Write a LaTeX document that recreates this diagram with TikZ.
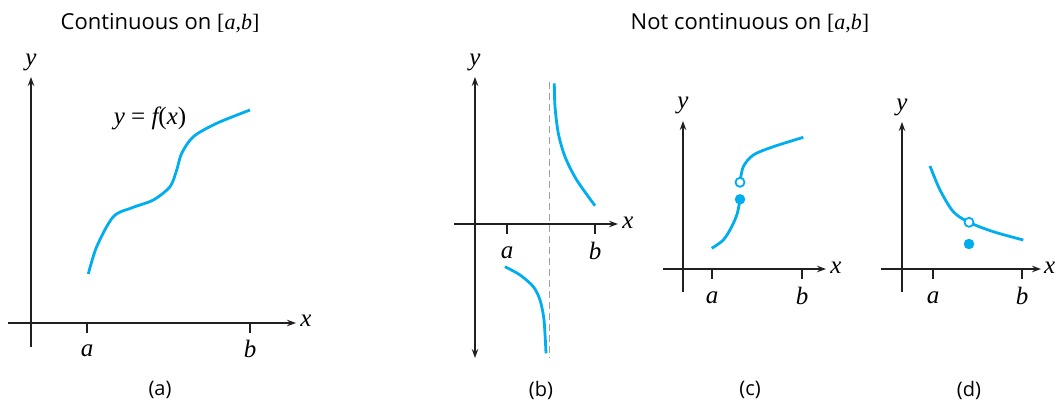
\documentclass[tikz,border=0pt]{standalone}
\usepackage{fontspec}
\setmainfont{Open Sans}
\newfontfamily\varfont{Liberation Serif}
\usetikzlibrary{arrows.meta}

\definecolor{graphcyan}{RGB}{0,174,239}
\definecolor{axisblack}{RGB}{35,31,32}
\definecolor{asymgray}{RGB}{160,160,160}

\newcommand{\mvar}[1]{{\varfont\itshape #1}}

\tikzset{
  axisline/.style={draw=axisblack, line width=1.2pt, -{Stealth[length=9pt,width=6.5pt]}},
  twoway/.style={draw=axisblack, line width=1.2pt, {Stealth[length=9pt,width=6.5pt]}-{Stealth[length=9pt,width=6.5pt]}},
  tickmark/.style={draw=axisblack, line width=1.2pt},
  graph/.style={draw=graphcyan, line width=2.8pt},
  varlbl/.style={inner sep=0pt, font=\fontsize{25}{28}\varfont\itshape},
  titlelbl/.style={inner sep=0pt, font=\fontsize{22}{26}\selectfont},
  caplbl/.style={inner sep=0pt, font=\fontsize{20}{24}\selectfont},
  solid dot/.style={circle, fill=graphcyan, inner sep=0pt, minimum size=10.5pt},
  open dot/.style={circle, draw=graphcyan, fill=white, line width=1.8pt, inner sep=0pt, minimum size=9pt}
}

\begin{document}
\begin{tikzpicture}[x=1pt,y=-1pt]
\useasboundingbox (0,0) rectangle (1056,407);

% headings
\node[titlelbl] (headA) at (160,23) {Continuous on {\varfont[\itshape a,b\upshape]}};
\node[titlelbl] (headB) at (750,23) {Not continuous on {\varfont[\itshape a,b\upshape]}};

% (a) continuous
\coordinate (a-xl) at (8,323);
\coordinate (a-xr) at (296,323);
\coordinate (a-yb) at (31,347);
\coordinate (a-yt) at (31,77);
\draw[axisline] (a-xl) -- (a-xr);
\draw[axisline] (a-yb) -- (a-yt);
\node[varlbl] (a-x) at (306,321) {x};
\node[varlbl] (a-y) at (31,62) {y};
\draw[tickmark] (87,323) -- (87,333);
\draw[tickmark] (250,323) -- (250,333);
\node[varlbl] (a-a) at (87,351) {a};
\node[varlbl] (a-b) at (250,349) {b};
\draw[graph] plot[smooth] coordinates {(88.3,274) (96.7,246.7) (113.3,216.7) (133.3,207.3)
  (153.3,200) (170,186.7) (176.7,170) (181.7,153.3) (193.3,136.7) (216.7,123.3) (250,110)};
\node[varlbl] (a-f) at (150,118) {y \upshape= \itshape f\upshape(\itshape x\upshape)};
\node[caplbl] (a-cap) at (160,390) {(a)};

% (b) vertical asymptote
\coordinate (b-xl) at (454,224);
\coordinate (b-xr) at (618,224);
\coordinate (b-yb) at (475,358);
\coordinate (b-yt) at (475,77);
\draw[axisline] (b-xl) -- (b-xr);
\draw[twoway] (b-yb) -- (b-yt);
\draw[asymgray, line width=1pt, dash pattern=on 7pt off 4pt] (549,82) -- (549,358);
\node[varlbl] (b-x) at (628,223) {x};
\node[varlbl] (b-y) at (475,62) {y};
\draw[tickmark] (507,224) -- (507,234);
\draw[tickmark] (595,224) -- (595,234);
\node[varlbl] (b-a) at (507,253) {a};
\node[varlbl] (b-b) at (595,251) {b};
\draw[graph] plot[smooth] coordinates {(554.3,83.3) (555,106.7) (558.3,133.3) (565,156.7) (576.7,180) (595,205.7)};
\draw[graph] plot[smooth] coordinates {(505,266.7) (520,275) (533.3,286.7) (540,300) (544,320) (546,353.3)};
\node[caplbl] (b-cap) at (541,390) {(b)};

% (c) jump
\coordinate (c-xl) at (663,269);
\coordinate (c-xr) at (826,269);
\coordinate (c-yb) at (683,292);
\coordinate (c-yt) at (683,121);
\draw[axisline] (c-xl) -- (c-xr);
\draw[axisline] (c-yb) -- (c-yt);
\node[varlbl] (c-x) at (836,268) {x};
\node[varlbl] (c-y) at (683,105) {y};
\draw[tickmark] (712,269) -- (712,279);
\draw[tickmark] (802,269) -- (802,279);
\node[varlbl] (c-a) at (712,298) {a};
\node[varlbl] (c-b) at (802,296) {b};
\draw[graph] plot[smooth] coordinates {(711.7,248.3) (723.3,240) (731.7,226.7) (737.3,213.3) (740,199.3)};
\draw[graph] plot[smooth] coordinates {(740,182.3) (743.3,166.7) (753.3,155) (773.3,146.7) (803.3,137.3)};
\node[solid dot] (c-fill) at (740,199.3) {};
\node[open dot] (c-hole) at (740,182.3) {};
\node[caplbl] (c-cap) at (750,390) {(c)};

% (d) removable
\coordinate (d-xl) at (881,269);
\coordinate (d-xr) at (1041,269);
\coordinate (d-yb) at (902,292);
\coordinate (d-yt) at (902,122);
\draw[axisline] (d-xl) -- (d-xr);
\draw[axisline] (d-yb) -- (d-yt);
\node[varlbl, anchor=east] (d-x) at (1055.5,268) {x};
\node[varlbl] (d-y) at (902,107) {y};
\draw[tickmark] (933,269) -- (933,279);
\draw[tickmark] (1022,269) -- (1022,279);
\node[varlbl] (d-a) at (933,298) {a};
\node[varlbl] (d-b) at (1022,296) {b};
\draw[graph] plot[smooth] coordinates {(930,166) (940,190) (953.3,211.7) (969,222.3) (993.3,231.7) (1023.3,240)};
\node[open dot] (d-hole) at (969,222.3) {};
\node[solid dot] (d-fill) at (969,244) {};
\node[caplbl] (d-cap) at (969,390) {(d)};
\end{tikzpicture}
\end{document}
